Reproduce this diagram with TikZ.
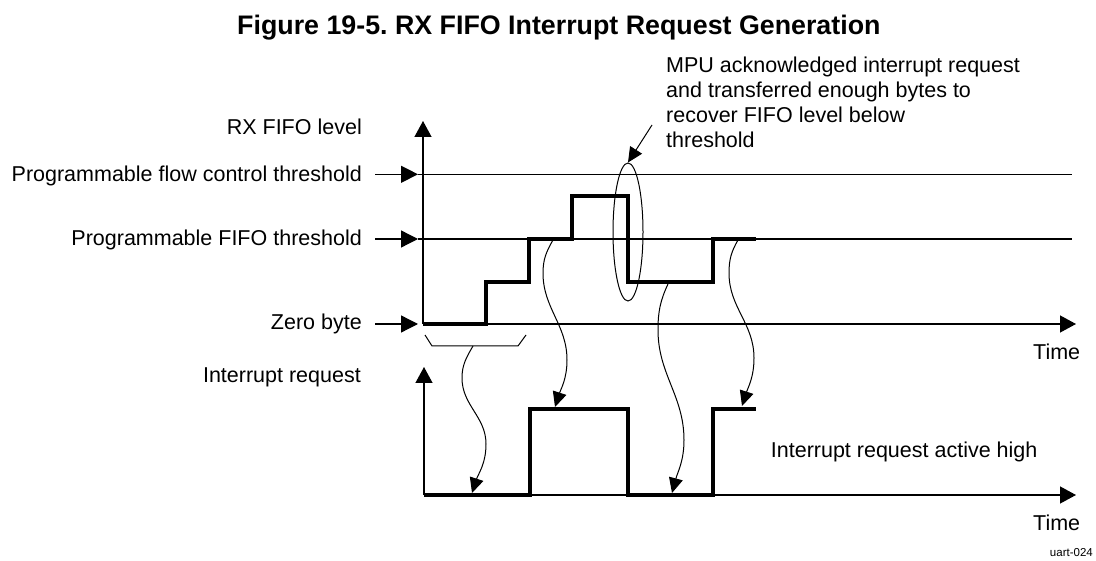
\documentclass[tikz,border=0pt]{standalone}
\usepackage{fontspec}
\setmainfont{Liberation Sans}
\usetikzlibrary{arrows.meta,shapes.geometric}
\frenchspacing
\begin{document}
\begin{tikzpicture}[x=1pt,y=-1pt,
  lbl/.style={font=\fontsize{21.5}{24.9}\selectfont, inner sep=0pt},
  ttl/.style={font=\fontsize{26.8}{30}\selectfont\bfseries, inner sep=0pt},
  small/.style={font=\fontsize{11.5}{13}\selectfont, inner sep=0pt},
  thinln/.style={line width=1.3pt},
  sig/.style={line width=3.5pt, line join=miter},
  ptr/.style={line width=1.3pt, -{Triangle[length=17pt,width=17pt]}},
  axarr/.style={line width=1.3pt, -{Triangle[length=16pt,width=17pt]}},
  crv/.style={line width=1pt, -{Triangle[length=15pt,width=14pt]}},
  fine/.style={line width=1pt}]
\useasboundingbox (0,0) rectangle (1096,561);

% title
\node[ttl, anchor=base west] (title) at (237,35) {Figure 19-5. RX FIFO Interrupt Request Generation};

% labels
\node[lbl, anchor=base east] (rxl) at (362,135) {RX FIFO level};
\node[lbl, anchor=base east] (flowl) at (362,181.5) {Programmable flow control threshold};
\node[lbl, anchor=base east] (fifol) at (362,245.5) {Programmable FIFO threshold};
\node[lbl, anchor=base east] (zerol) at (362,330) {Zero byte};
\node[lbl, anchor=base east] (irql) at (361,382.7) {Interrupt request};
\node[lbl, anchor=base west] (activel) at (770.7,457.3) {Interrupt request active high};
\node[lbl, anchor=base west] (time1) at (1033,359.3) {Time};
\node[lbl, anchor=base west] (time2) at (1033,530) {Time};
\node[small, anchor=base east] (uart) at (1093,556) {uart-024};
\node[lbl, anchor=base west, align=left] (mpu) at (666,147.3)
  {MPU acknowledged interrupt request\\and transferred enough bytes to\\recover FIFO level below\\threshold};

% coordinates
\coordinate (ax1b) at (423,324);
\coordinate (ax1t) at (423,121);
\coordinate (ax2b) at (424,495);
\coordinate (ax2t) at (424,367);
\coordinate (pf0) at (375,174.3);
\coordinate (pf1) at (418,174.3);
\coordinate (pt0) at (375,239);
\coordinate (pt1) at (418,239);
\coordinate (pz0) at (375,324);
\coordinate (pz1) at (418,324);
\coordinate (flowend) at (1072,174.3);
\coordinate (fifoend) at (1072,239);
\coordinate (time1end) at (1076,324);
\coordinate (time2end) at (1076,495);

% axes
\draw[axarr] (ax1b) -- (ax1t);
\draw[axarr] (ax2b) -- (ax2t);
\draw[axarr] (ax1b) -- (time1end);
\draw[axarr] (ax2b) -- (time2end);

% threshold lines
\draw[thinln] (pf1) -- (flowend);
\draw[thinln] (pt1) -- (fifoend);

% pointers
\draw[ptr] (pf0) -- (pf1);
\draw[ptr] (pt0) -- (pt1);
\draw[ptr] (pz0) -- (pz1);

% FIFO level signal
\draw[sig] (423,324) -- (486,324) -- (486,282) -- (529,282) -- (529,239)
  -- (572,239) -- (572,196) -- (628,196) -- (628,282) -- (713,282)
  -- (713,239) -- (756,239);

% interrupt signal
\draw[sig] (424,495) -- (530,495) -- (530,409) -- (628,409) -- (628,495)
  -- (713,495) -- (713,409) -- (756,409);

% ellipse
\node[draw, fine, ellipse, minimum width=30pt, minimum height=138pt, inner sep=0pt] (ell) at (628,232) {};
\coordinate (annS) at (652,125);
\draw[line width=1pt, -{Triangle[length=15pt,width=14pt]}] (annS) -- (ell.north);

% brace
\draw[fine] (425,335) -- (432,346) -- (518,346) -- (526,335);

% curved connectors
\coordinate (cAs) at (473,346);
\coordinate (cAe) at (472,493);
\draw[crv] (cAs) to[out=240,in=90] (462,378) to[out=270,in=90] (486,444) to[out=270,in=72] (cAe);

\coordinate (cBs) at (553,240);
\coordinate (cBe) at (555,407);
\draw[crv] (cBs) to[out=240,in=90] (543,273) to[out=270,in=90] (567,360) to[out=270,in=72] (cBe);

\coordinate (cCs) at (668,284);
\coordinate (cCe) at (672,493);
\draw[crv] (cCs) to[out=245,in=90] (658,330) to[out=270,in=90] (684,440) to[out=270,in=75] (cCe);

\coordinate (cDs) at (738,240);
\coordinate (cDe) at (742,406);
\draw[crv] (cDs) to[out=240,in=90] (729,273) to[out=270,in=90] (754,358) to[out=270,in=72] (cDe);
\end{tikzpicture}
\end{document}
